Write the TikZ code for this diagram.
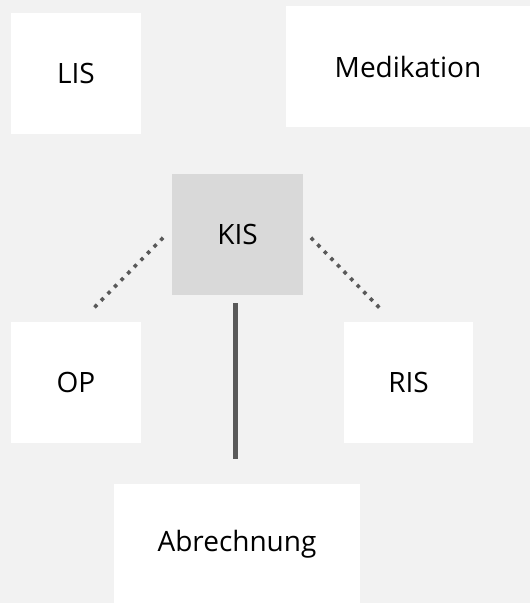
\documentclass[tikz,border=0pt]{standalone}
\usepackage{fontspec}
\setmainfont{Open Sans}
\definecolor{pagebg}{HTML}{F2F2F2}
\definecolor{hubfill}{HTML}{D9D9D9}
\definecolor{linkgray}{HTML}{595959}
\begin{document}
\begin{tikzpicture}[x=1pt,y=-1pt,
  sysbox/.style={draw=none,fill=white,inner sep=0pt,font=\fontsize{28}{33}\selectfont},
  dotlink/.style={draw=linkgray,line width=3.6pt,line cap=rect,dash pattern=on 0.01pt off 9.4pt},
  solidlink/.style={draw=linkgray,line width=4.6pt}]
  % background page
  \fill[pagebg] (0,0) rectangle (530,603);
  \useasboundingbox (0,0) rectangle (530,603);
  % system boxes
  \node[sysbox,minimum width=130pt,minimum height=121pt] (lis) at (76,73.5) {LIS};
  \node[sysbox,minimum width=244pt,minimum height=121pt] (med) at (408,66.5) {Medikation};
  \node[sysbox,fill=hubfill,minimum width=131pt,minimum height=121pt] (kis) at (237.5,234.5) {KIS};
  \node[sysbox,minimum width=130pt,minimum height=121pt] (op) at (76,382.5) {OP};
  \node[sysbox,minimum width=129pt,minimum height=121pt] (ris) at (408.5,382.5) {RIS};
  \node[sysbox,minimum width=246pt,minimum height=120pt] (abr) at (237,544) {Abrechnung};
  % connector end points
  \coordinate (kisL) at ([shift={(-10,4.5)}]kis.west);
  \coordinate (opT)  at ([shift={(19,-15)}]op.north);
  \coordinate (kisR) at ([shift={(9,4.5)}]kis.east);
  \coordinate (risT) at ([shift={(-30,-15)}]ris.north);
  \coordinate (kisB) at ([shift={(-1.8,8)}]kis.south);
  \coordinate (abrT) at ([shift={(-1.3,-25)}]abr.north);
  % connectors
  \draw[dotlink] (kisL) -- (opT);
  \draw[dotlink] (kisR) -- (risT);
  \draw[solidlink] (kisB) -- (abrT);
\end{tikzpicture}
\end{document}
